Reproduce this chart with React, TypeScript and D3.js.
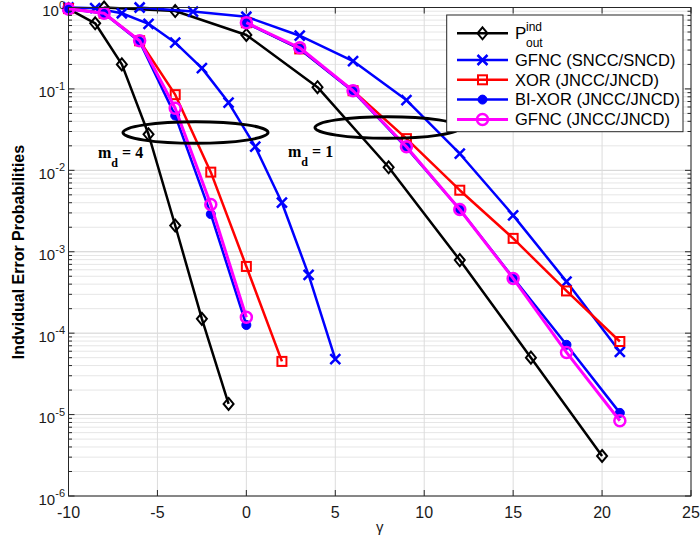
import React from "react";
import * as d3 from "d3";

// ---------- data ----------
const xTicks = [-10, -5, 0, 5, 10, 15, 20, 25];
const yDecades = [0, -1, -2, -3, -4, -5, -6];

// P_out^ind (two branches)
const blackL_x = [-10, -8.5, -7, -5.5, -4, -2.5, -1];
const blackL_y = [0.96, 0.64, 0.2, 0.0277, 0.0021, 1.5e-4, 1.35e-5];
const blackR_x = [-8, -4, 0, 4, 8, 12, 16, 20];
const blackR_y = [1.0, 0.905, 0.46, 0.105, 0.0109, 7.9e-4, 5.0e-5, 3.1e-6];

// GFNC (SNCC/SNCD)
const gfncSL_x = [-10, -8.5, -7, -5.5, -4, -2.5, -1, 0.5, 2, 3.5, 5];
const gfncSL_y = [1.0, 0.98, 0.85, 0.63, 0.37, 0.18, 0.068, 0.0195, 0.004, 5.2e-4, 4.8e-5];
const gfncSR_x = [-6, -3, 0, 3, 6, 9, 12, 15, 18, 21];
const gfncSR_y = [1.0, 0.89, 0.77, 0.45, 0.22, 0.073, 0.016, 0.0028, 4.3e-4, 5.9e-5];

// XOR (JNCC/JNCD)
const xorL_x = [-10, -8, -6, -4, -2, 0, 2];
const xorL_y = [0.97, 0.85, 0.39, 0.085, 0.0095, 6.6e-4, 4.5e-5];
const xorR_x = [0, 3, 6, 9, 12, 15, 18, 21];
const xorR_y = [0.65, 0.31, 0.095, 0.0245, 0.0057, 0.00146, 3.3e-4, 7.9e-5];

// BI-XOR (JNCC/JNCD)
const bixorL_x = [-10, -8, -6, -4, -2, 0];
const bixorL_y = [0.96, 0.85, 0.38, 0.047, 0.0029, 1.26e-4];
const bixorR_x = [0, 3, 6, 9, 12, 15, 18, 21];
const bixorR_y = [0.64, 0.31, 0.093, 0.019, 0.0033, 4.8e-4, 7.2e-5, 1.05e-5];

// GFNC (JNCC/JNCD)
const gfncJL_x = [-10, -8, -6, -4, -2, 0];
const gfncJL_y = [0.96, 0.85, 0.39, 0.058, 0.0038, 1.57e-4];
const gfncJR_x = [0, 3, 6, 9, 12, 15, 18, 21];
const gfncJR_y = [0.65, 0.32, 0.095, 0.0195, 0.0033, 4.7e-4, 5.8e-5, 8.4e-6];

const legendLabels = ["GFNC (SNCC/SNCD)", "XOR (JNCC/JNCD)", "BI-XOR (JNCC/JNCD)", "GFNC (JNCC/JNCD)"];

// ---------- layout ----------
const W = 700, H = 549;
const L = 68.5, R = 691, T = 7.5, B = 496;
const x = d3.scaleLinear().domain([-10, 25]).range([L, R]);
const y = d3.scaleLog().domain([1e-6, 1]).range([B, T]);
const SANS = "'Liberation Sans', Arial, Helvetica, sans-serif";
const SERIF = "'Liberation Serif', 'Times New Roman', serif";

type Marker = "diamond" | "x" | "square" | "dot" | "circle";

function MarkerShape({ kind, cx, cy, color }: { kind: Marker; cx: number; cy: number; color: string }) {
  switch (kind) {
    case "diamond":
      return <path d={`M${cx},${cy - 6}L${cx + 5},${cy}L${cx},${cy + 6}L${cx - 5},${cy}Z`} fill="none" stroke={color} strokeWidth={2} />;
    case "x":
      return <path d={`M${cx - 5},${cy - 5}L${cx + 5},${cy + 5}M${cx - 5},${cy + 5}L${cx + 5},${cy - 5}`} stroke={color} strokeWidth={2.5} fill="none" />;
    case "square":
      return <rect x={cx - 4.5} y={cy - 4.5} width={9} height={9} fill="none" stroke={color} strokeWidth={2} />;
    case "dot":
      return <circle cx={cx} cy={cy} r={4.5} fill={color} stroke={color} strokeWidth={1} />;
    case "circle":
      return <circle cx={cx} cy={cy} r={5.5} fill="none" stroke={color} strokeWidth={2.5} />;
  }
}

function Series({ xs, ys, color, marker, width = 2.5 }: { xs: number[]; ys: number[]; color: string; marker: Marker; width?: number }) {
  const pts: [number, number][] = xs.map((v, i) => [x(v), y(ys[i])]);
  const line = d3.line()(pts) || "";
  return (
    <g>
      <path d={line} fill="none" stroke={color} strokeWidth={width} strokeLinejoin="round" />
      {pts.map((p, i) => (
        <MarkerShape key={i} kind={marker} cx={p[0]} cy={p[1]} color={color} />
      ))}
    </g>
  );
}

export default function App() {
  const minorVals: number[] = [];
  for (let e = -6; e < 0; e++) for (let m = 2; m <= 9; m++) minorVals.push(m * Math.pow(10, e));

  const legendItems: { label: string; color: string; marker: Marker }[] = [
    { label: legendLabels[0], color: "#0000ff", marker: "x" },
    { label: legendLabels[1], color: "#ff0000", marker: "square" },
    { label: legendLabels[2], color: "#0000ff", marker: "dot" },
    { label: legendLabels[3], color: "#ff00ff", marker: "circle" },
  ];

  return (
    <svg width={W} height={H} style={{ position: "absolute", left: 0, top: 0, background: "#fff" }} xmlns="http://www.w3.org/2000/svg">
      <rect x={0} y={0} width={W} height={H} fill="#fff" />
      {/* grid */}
      <g>
        {minorVals.map((v, i) => (
          <line key={"mg" + i} x1={L} x2={R} y1={y(v)} y2={y(v)} stroke="#e6e6e6" strokeWidth={1} />
        ))}
        {yDecades.map((e) => (
          <line key={"Mg" + e} x1={L} x2={R} y1={y(Math.pow(10, e))} y2={y(Math.pow(10, e))} stroke="#d0d0d0" strokeWidth={1} />
        ))}
        {xTicks.map((t) => (
          <line key={"xg" + t} x1={x(t)} x2={x(t)} y1={T} y2={B} stroke="#dcdcdc" strokeWidth={1} />
        ))}
      </g>

      {/* series */}
      <Series xs={blackL_x} ys={blackL_y} color="#000000" marker="diamond" />
      <Series xs={blackR_x} ys={blackR_y} color="#000000" marker="diamond" />
      <Series xs={gfncSL_x} ys={gfncSL_y} color="#0000ff" marker="x" />
      <Series xs={gfncSR_x} ys={gfncSR_y} color="#0000ff" marker="x" />
      <Series xs={xorL_x} ys={xorL_y} color="#ff0000" marker="square" />
      <Series xs={xorR_x} ys={xorR_y} color="#ff0000" marker="square" />
      <Series xs={bixorL_x} ys={bixorL_y} color="#0000ff" marker="dot" />
      <Series xs={bixorR_x} ys={bixorR_y} color="#0000ff" marker="dot" />
      <Series xs={gfncJL_x} ys={gfncJL_y} color="#ff00ff" marker="circle" width={3} />
      <Series xs={gfncJR_x} ys={gfncJR_y} color="#ff00ff" marker="circle" width={3} />

      {/* annotations */}
      <ellipse cx={195.5} cy={132.5} rx={72.5} ry={10.8} fill="none" stroke="#000" strokeWidth={3} />
      <ellipse cx={387.5} cy={127.5} rx={72.5} ry={10.8} fill="none" stroke="#000" strokeWidth={3} />
      <text x={98} y={158} fontFamily={SERIF} fontWeight="bold" fontSize={16} fill="#000">
        m<tspan dy={9} fontSize={12}>d</tspan><tspan dy={-9}> = 4</tspan>
      </text>
      <text x={288} y={157} fontFamily={SERIF} fontWeight="bold" fontSize={16} fill="#000">
        m<tspan dy={9} fontSize={12}>d</tspan><tspan dy={-9}> = 1</tspan>
      </text>

      {/* axes box and ticks */}
      <g stroke="#262626" strokeWidth={1} fill="none">
        <rect x={L} y={T} width={R - L} height={B - T} />
        {xTicks.map((t) => (
          <g key={"xt" + t}>
            <line x1={x(t)} x2={x(t)} y1={B} y2={B - 6} />
            <line x1={x(t)} x2={x(t)} y1={T} y2={T + 6} />
          </g>
        ))}
        {yDecades.map((e) => (
          <g key={"yt" + e}>
            <line x1={L} x2={L + 6} y1={y(Math.pow(10, e))} y2={y(Math.pow(10, e))} />
            <line x1={R} x2={R - 6} y1={y(Math.pow(10, e))} y2={y(Math.pow(10, e))} />
          </g>
        ))}
        {minorVals.map((v, i) => (
          <g key={"ym" + i}>
            <line x1={L} x2={L + 3.5} y1={y(v)} y2={y(v)} />
            <line x1={R} x2={R - 3.5} y1={y(v)} y2={y(v)} />
          </g>
        ))}
      </g>

      {/* tick labels */}
      <g fontFamily={SANS} fill="#1a1a1a">
        {xTicks.map((t) => (
          <text key={"xl" + t} x={x(t)} y={517.5} fontSize={16} textAnchor="middle">
            {t}
          </text>
        ))}
        {yDecades.map((e) => (
          <text key={"yl" + e} x={65} y={y(Math.pow(10, e)) + 8.5} fontSize={15} textAnchor="end">
            10<tspan dy={-7.5} fontSize={11}>{e}</tspan>
          </text>
        ))}
        <text x={(L + R) / 2} y={532} fontSize={15} textAnchor="middle">γ</text>
        <text transform={`translate(24,252) rotate(-90)`} fontSize={16} fontWeight="bold" textAnchor="middle" fill="#000">
          Indvidual Error Probabilities
        </text>
      </g>

      {/* legend */}
      <g>
        <rect x={446.7} y={15} width={236.3} height={116.7} fill="#fff" stroke="#262626" strokeWidth={1} />
        <line x1={457} x2={508} y1={33.3} y2={33.3} stroke="#000" strokeWidth={2.5} />
        <MarkerShape kind="diamond" cx={482.5} cy={33.3} color="#000" />
        <text x={515} y={38.5} fontFamily={SANS} fontSize={17} fill="#000">
          P
        </text>
        <text x={526} y={31} fontFamily={SANS} fontSize={12} fill="#000">ind</text>
        <text x={526} y={46.5} fontFamily={SANS} fontSize={12} fill="#000">out</text>
        {legendItems.map((it, i) => {
          const ly = 60 + i * 19.8;
          return (
            <g key={"lg" + i}>
              <line x1={457} x2={508} y1={ly} y2={ly} stroke={it.color} strokeWidth={it.marker === "circle" ? 3 : 2.5} />
              <MarkerShape kind={it.marker} cx={482.5} cy={ly} color={it.color} />
              <text x={515} y={ly + 5.8} fontFamily={SANS} fontSize={16.5} fill="#000">
                {it.label}
              </text>
            </g>
          );
        })}
      </g>
    </svg>
  );
}
